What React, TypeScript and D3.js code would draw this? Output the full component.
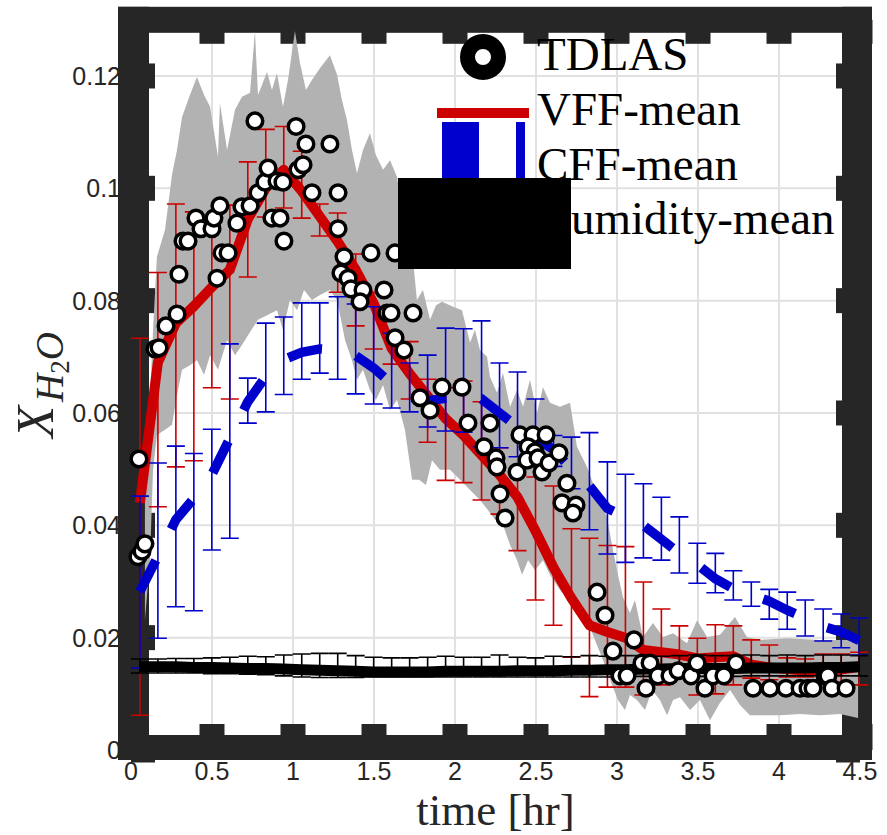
import React from "react";
import * as d3 from "d3";

// ---------- data ----------
const TIME = [0.055, 0.166, 0.277, 0.388, 0.499, 0.61, 0.721, 0.832, 0.943, 1.054, 1.165, 1.276, 1.387, 1.498, 1.609, 1.72, 1.831, 1.942, 2.053, 2.164, 2.275, 2.386, 2.497, 2.608, 2.719, 2.83, 2.941, 3.052, 3.163, 3.274, 3.385, 3.496, 3.607, 3.718, 3.829, 3.94, 4.051, 4.162, 4.273, 4.384, 4.495];

const VFF_MEAN = [0.044, 0.069, 0.076, 0.079, 0.0824, 0.0855, 0.0945, 0.1, 0.1033, 0.0995, 0.095, 0.0905, 0.0855, 0.0795, 0.0715, 0.067, 0.063, 0.059, 0.056, 0.0525, 0.049, 0.045, 0.039, 0.0325, 0.027, 0.0222, 0.021, 0.02, 0.0178, 0.0174, 0.017, 0.0163, 0.0165, 0.0167, 0.0152, 0.0147, 0.0144, 0.0141, 0.014, 0.0143, 0.0148];
const VFF_LO = [0.0062, 0.0433, 0.0504, 0.0515, 0.0645, 0.0625, 0.0842, 0.0949, 0.0965, 0.0947, 0.0915, 0.0815, 0.0755, 0.0714, 0.0687, 0.0625, 0.0548, 0.048, 0.0476, 0.0445, 0.042, 0.0355, 0.0267, 0.0222, 0.0165, 0.0095, 0.0112, 0.0112, 0.0098, 0.0116, 0.0128, 0.0098, 0.01, 0.0116, 0.0128, 0.0125, 0.013, 0.013, 0.0125, 0.012, 0.0116];
const VFF_HI = [0.0733, 0.085, 0.0972, 0.0958, 0.093, 0.097, 0.1047, 0.1105, 0.111, 0.1066, 0.0972, 0.0956, 0.0883, 0.0815, 0.0742, 0.0727, 0.066, 0.0645, 0.0657, 0.062, 0.0538, 0.049, 0.0486, 0.047, 0.0394, 0.0377, 0.0364, 0.0362, 0.0299, 0.0251, 0.0221, 0.0199, 0.0223, 0.0221, 0.0196, 0.0187, 0.0164, 0.0162, 0.0171, 0.0171, 0.0174];

const CFF_MEAN = [0.0282, 0.0345, 0.041, 0.0448, 0.049, 0.0555, 0.062, 0.0665, 0.0695, 0.0708, 0.0714, 0.0712, 0.0702, 0.068, 0.0652, 0.0628, 0.0622, 0.0626, 0.0628, 0.0625, 0.06, 0.0575, 0.0555, 0.0535, 0.05, 0.047, 0.043, 0.0415, 0.04, 0.0375, 0.035, 0.033, 0.0305, 0.0287, 0.0276, 0.0265, 0.0249, 0.0235, 0.022, 0.021, 0.0195];
const CFF_LO = [0.0146, 0.0199, 0.0255, 0.0248, 0.0356, 0.0377, 0.0582, 0.0602, 0.0633, 0.066, 0.0671, 0.066, 0.0634, 0.0616, 0.0609, 0.0602, 0.0575, 0.0568, 0.0566, 0.054, 0.0538, 0.0522, 0.0504, 0.0505, 0.0465, 0.0392, 0.0349, 0.0334, 0.0342, 0.0338, 0.0315, 0.0297, 0.028, 0.0267, 0.0256, 0.0233, 0.0215, 0.0203, 0.0194, 0.0182, 0.0169];
const CFF_HI = [0.0452, 0.0511, 0.0541, 0.0528, 0.0571, 0.0723, 0.0662, 0.076, 0.0771, 0.0796, 0.0796, 0.0807, 0.0794, 0.0789, 0.0742, 0.0689, 0.0703, 0.0751, 0.075, 0.0764, 0.0689, 0.0673, 0.0625, 0.056, 0.0557, 0.0565, 0.0513, 0.0491, 0.0474, 0.045, 0.0415, 0.0368, 0.035, 0.0319, 0.0299, 0.0286, 0.0281, 0.0267, 0.0251, 0.0242, 0.0235];

const HUM_MEAN = [0.0148, 0.0148, 0.0148, 0.0147, 0.0147, 0.0146, 0.0145, 0.0145, 0.0144, 0.0143, 0.0142, 0.0141, 0.014, 0.0139, 0.0139, 0.0139, 0.0139, 0.014, 0.014, 0.014, 0.014, 0.0141, 0.0141, 0.0141, 0.0142, 0.0142, 0.0143, 0.0143, 0.0144, 0.0144, 0.0145, 0.0145, 0.0145, 0.0145, 0.0146, 0.0146, 0.0146, 0.0146, 0.0147, 0.0147, 0.0148];
const HUM_LO = [0.0137, 0.0137, 0.0137, 0.0137, 0.0136, 0.0136, 0.0135, 0.0134, 0.0132, 0.013, 0.0129, 0.0129, 0.0129, 0.013, 0.013, 0.013, 0.013, 0.013, 0.013, 0.013, 0.013, 0.013, 0.013, 0.013, 0.013, 0.013, 0.013, 0.0131, 0.0131, 0.0131, 0.0131, 0.0131, 0.0131, 0.0131, 0.0132, 0.0132, 0.0132, 0.0132, 0.0132, 0.0132, 0.0132];
const HUM_HI = [0.0162, 0.0162, 0.0163, 0.0163, 0.0164, 0.0165, 0.0167, 0.0166, 0.0169, 0.0171, 0.0172, 0.0172, 0.0168, 0.0165, 0.0164, 0.0164, 0.0165, 0.0167, 0.0165, 0.0165, 0.0169, 0.0165, 0.0164, 0.0167, 0.0166, 0.0168, 0.0167, 0.0168, 0.0168, 0.0167, 0.0168, 0.0169, 0.0168, 0.0168, 0.0169, 0.0168, 0.0169, 0.0168, 0.0169, 0.0169, 0.0168];

const BAND_UP_T = [0.086, 0.117, 0.136, 0.16, 0.21, 0.253, 0.284, 0.315, 0.364, 0.407, 0.451, 0.488, 0.537, 0.549, 0.593, 0.642, 0.685, 0.735, 0.765, 0.784, 0.84, 0.87, 0.901, 0.938, 0.969, 1.012, 1.043, 1.08, 1.117, 1.167, 1.228, 1.272, 1.302, 1.333, 1.364, 1.395, 1.432, 1.475, 1.512, 1.556, 1.599, 1.642, 1.691, 1.735, 1.765, 1.802, 1.846, 1.883, 1.92, 1.981, 2.043, 2.093, 2.123, 2.154, 2.198, 2.216, 2.259, 2.296, 2.34, 2.383, 2.42, 2.463, 2.506, 2.543, 2.586, 2.648, 2.71, 2.753, 2.815, 2.852, 2.895, 2.938, 2.975, 3.006, 3.037, 3.08, 3.111, 3.16, 3.222, 3.284, 3.346, 3.432, 3.494, 3.556, 3.636, 3.728, 3.802, 3.883, 4.049, 4.253, 4.42, 4.488];
const BAND_UP_V = [0.0499, 0.0623, 0.0748, 0.0878, 0.0926, 0.1024, 0.1068, 0.1127, 0.1166, 0.1198, 0.1166, 0.1145, 0.1056, 0.1152, 0.1068, 0.114, 0.1163, 0.117, 0.128, 0.1166, 0.1207, 0.1175, 0.1205, 0.1145, 0.1193, 0.128, 0.1223, 0.1175, 0.1193, 0.1214, 0.1237, 0.1202, 0.1157, 0.1122, 0.1068, 0.1027, 0.1068, 0.1098, 0.1059, 0.1033, 0.105, 0.102, 0.0935, 0.089, 0.0801, 0.0819, 0.0766, 0.0792, 0.0798, 0.079, 0.0783, 0.0725, 0.0748, 0.0712, 0.07, 0.0664, 0.0636, 0.0671, 0.0611, 0.0641, 0.0611, 0.0659, 0.06, 0.0646, 0.0618, 0.0611, 0.0618, 0.054, 0.0504, 0.0475, 0.0445, 0.0415, 0.0356, 0.0312, 0.0272, 0.0244, 0.0267, 0.0201, 0.0226, 0.0201, 0.0208, 0.019, 0.0231, 0.0201, 0.0205, 0.0237, 0.0201, 0.0196, 0.0199, 0.0196, 0.0196, 0.0194];
const BAND_LO_T = [0.086, 0.117, 0.136, 0.16, 0.21, 0.253, 0.284, 0.315, 0.364, 0.407, 0.451, 0.488, 0.537, 0.593, 0.642, 0.685, 0.735, 0.784, 0.84, 0.901, 0.938, 0.981, 1.025, 1.068, 1.117, 1.167, 1.228, 1.272, 1.321, 1.364, 1.395, 1.432, 1.475, 1.512, 1.556, 1.599, 1.642, 1.691, 1.735, 1.778, 1.821, 1.858, 1.907, 1.969, 2.031, 2.093, 2.154, 2.204, 2.247, 2.296, 2.34, 2.383, 2.414, 2.451, 2.494, 2.543, 2.586, 2.648, 2.71, 2.772, 2.815, 2.864, 2.914, 2.957, 3.006, 3.049, 3.08, 3.123, 3.173, 3.216, 3.265, 3.309, 3.346, 3.389, 3.451, 3.512, 3.574, 3.636, 3.698, 3.759, 3.821, 3.883, 4.006, 4.13, 4.253, 4.377, 4.488];
const BAND_LO_V = [0.0231, 0.0338, 0.0499, 0.0561, 0.057, 0.0579, 0.0632, 0.0677, 0.0685, 0.0694, 0.0668, 0.0703, 0.0677, 0.073, 0.0703, 0.0721, 0.0744, 0.0766, 0.0774, 0.0783, 0.0748, 0.0801, 0.0783, 0.0819, 0.0801, 0.081, 0.0819, 0.0801, 0.073, 0.0694, 0.0659, 0.0677, 0.0641, 0.0623, 0.065, 0.0605, 0.0623, 0.057, 0.0481, 0.0481, 0.0472, 0.0516, 0.0499, 0.0499, 0.0481, 0.0463, 0.0445, 0.0427, 0.041, 0.0401, 0.0365, 0.0338, 0.0312, 0.0338, 0.032, 0.0338, 0.0312, 0.0285, 0.0267, 0.0249, 0.0231, 0.0196, 0.016, 0.0125, 0.0089, 0.0071, 0.0098, 0.0089, 0.0071, 0.0107, 0.0089, 0.0062, 0.0089, 0.0094, 0.0071, 0.0089, 0.0053, 0.0084, 0.0107, 0.008, 0.0062, 0.0062, 0.0062, 0.0064, 0.0062, 0.0064, 0.0057];

const TDLAS_T = [0.049, 0.043, 0.068, 0.086, 0.148, 0.173, 0.216, 0.284, 0.296, 0.321, 0.352, 0.401, 0.432, 0.5, 0.512, 0.549, 0.562, 0.599, 0.531, 0.654, 0.685, 0.735, 0.765, 0.784, 0.827, 0.846, 0.87, 0.92, 0.901, 0.938, 0.944, 1.019, 1.031, 1.062, 1.08, 1.117, 1.228, 1.278, 1.278, 1.315, 1.296, 1.34, 1.358, 1.432, 1.414, 1.481, 1.562, 1.58, 1.605, 1.63, 1.63, 1.685, 1.741, 1.784, 1.846, 1.92, 2.043, 2.08, 2.179, 2.216, 2.253, 2.259, 2.278, 2.309, 2.383, 2.401, 2.481, 2.562, 2.451, 2.494, 2.444, 2.512, 2.537, 2.58, 2.642, 2.691, 2.66, 2.747, 2.728, 2.877, 2.926, 2.975, 3.105, 3.154, 3.204, 3.019, 3.062, 3.179, 3.253, 3.327, 3.377, 3.457, 3.494, 3.543, 3.593, 3.66, 3.735, 3.84, 3.944, 4.043, 4.13, 4.179, 4.21, 4.284, 4.302, 4.327, 4.414];
const TDLAS_V = [0.0518, 0.0344, 0.0354, 0.0367, 0.0714, 0.0716, 0.0755, 0.0776, 0.0847, 0.0906, 0.0906, 0.0947, 0.0928, 0.0928, 0.0947, 0.0969, 0.0885, 0.0885, 0.084, 0.0938, 0.0967, 0.0969, 0.112, 0.0992, 0.1011, 0.1036, 0.0947, 0.0947, 0.1013, 0.1011, 0.0906, 0.111, 0.1033, 0.1042, 0.1079, 0.0992, 0.1079, 0.0992, 0.0928, 0.0878, 0.0849, 0.084, 0.0821, 0.0819, 0.0798, 0.0885, 0.0819, 0.0778, 0.0778, 0.0885, 0.0734, 0.0712, 0.0778, 0.0627, 0.0605, 0.0646, 0.0646, 0.0582, 0.054, 0.0582, 0.052, 0.0504, 0.0456, 0.0413, 0.0495, 0.0561, 0.0561, 0.0561, 0.054, 0.0531, 0.0516, 0.052, 0.0495, 0.0511, 0.0529, 0.0475, 0.044, 0.0436, 0.0422, 0.0281, 0.024, 0.0176, 0.0196, 0.0155, 0.0155, 0.0132, 0.0132, 0.011, 0.0132, 0.0132, 0.0141, 0.0132, 0.0155, 0.011, 0.0132, 0.0132, 0.0155, 0.011, 0.011, 0.011, 0.011, 0.011, 0.011, 0.0132, 0.0132, 0.011, 0.011];

const X_TICKS = [0, 0.5, 1, 1.5, 2, 2.5, 3, 3.5, 4, 4.5];
const X_TICK_LABELS = ["0", "0.5", "1", "1.5", "2", "2.5", "3", "3.5", "4", "4.5"];
const Y_TICKS = [0, 0.02, 0.04, 0.06, 0.08, 0.1, 0.12];
const Y_TICK_LABELS = ["0", "0.02", "0.04", "0.06", "0.08", "0.1", "0.12"];

const LEGEND_LABELS = ["TDLAS", "VFF-mean", "CFF-mean", "Humidity-mean"];

// ---------- styles ----------
const FRAME = "#262626";
const GRID = "#e1e1e1";
const RED = "#cc0000";
const BLUE = "#0000cc";
const GRAY = "#b2b2b2";
const SANS = "'Liberation Sans', Arial, Helvetica, sans-serif";
const SERIF = "'Liberation Serif', 'Times New Roman', serif";

export default function App() {
  const x = d3.scaleLinear().domain([0, 4.5]).range([131, 860]);
  const y = d3.scaleLinear().domain([0, 0.13]).range([750, 19.8]);
  const x0 = x(0), x1 = x(4.5), y0 = y(0), y1 = y(0.13);

  const meanLine = (vals: number[]) =>
    d3.line<number>().x((_, i) => x(TIME[i])).y((d) => y(d))(vals) || "";

  const bandPts: [number, number][] = [
    ...BAND_UP_T.map((t, i) => [x(t), y(BAND_UP_V[i])] as [number, number]),
    ...BAND_LO_T.map((t, i) => [x(t), y(BAND_LO_V[i])] as [number, number]).reverse(),
  ];
  const bandPath = d3.line().curve(d3.curveLinearClosed)(bandPts) || "";

  const errBars = (lo: number[], hi: number[], color: string, key: string) => {
    const cap = 9;
    return (
      <g key={key} stroke={color} strokeWidth={1.6} fill="none">
        {TIME.map((t, i) => {
          const cx = x(t);
          const ylo = y(lo[i]);
          const yhi = y(hi[i]);
          return (
            <path
              key={i}
              d={`M${cx},${ylo}L${cx},${yhi}M${cx - cap},${ylo}L${cx + cap},${ylo}M${cx - cap},${yhi}L${cx + cap},${yhi}`}
            />
          );
        })}
      </g>
    );
  };

  return (
    <svg
      width={887}
      height={835}
      style={{ position: "absolute", left: 0, top: 0, background: "#fff" }}
    >
      {/* tick labels (partly hidden under frame) */}
      <g fontFamily={SANS} fontSize={25} fill={FRAME}>
        {Y_TICKS.map((v, i) => (
          <text key={"yl" + i} x={121} y={y(v)} dy="0.36em" textAnchor="end">
            {Y_TICK_LABELS[i]}
          </text>
        ))}
        {X_TICKS.map((t, i) => (
          <text key={"xl" + i} x={x(t)} y={780} textAnchor="middle">
            {X_TICK_LABELS[i]}
          </text>
        ))}
      </g>

      {/* grid */}
      <g stroke={GRID} strokeWidth={2}>
        {X_TICKS.map((t, i) => (
          <line key={"gx" + i} x1={x(t)} x2={x(t)} y1={y1} y2={y0} />
        ))}
        {Y_TICKS.map((v, i) => (
          <line key={"gy" + i} x1={x0} x2={x1} y1={y(v)} y2={y(v)} />
        ))}
      </g>

      {/* frame */}
      <g fill={FRAME}>
        <rect x={x0 - 13} y={y1 - 13} width={31} height={y0 + 10 - (y1 - 13)} />
        <rect x={x1 - 18} y={y1 - 13} width={30} height={y0 + 10 - (y1 - 13)} />
        <rect x={x0 - 13} y={y1 - 13} width={x1 + 12 - (x0 - 13)} height={26} />
        <rect x={x0 - 13} y={y0 - 15} width={x1 + 12 - (x0 - 13)} height={25} />
        {Y_TICKS.map((v, i) => (
          <g key={"ty" + i}>
            <rect x={x0} y={y(v) - 12.5} width={24} height={25} />
            <rect x={x1 - 24} y={y(v) - 12.5} width={24} height={25} />
          </g>
        ))}
        {X_TICKS.map((t, i) => (
          <g key={"tx" + i}>
            <rect x={x(t) - 12.5} y={y1} width={25} height={24} />
            <rect x={x(t) - 12.5} y={y0 - 26} width={25} height={26} />
          </g>
        ))}
      </g>

      {/* gray band */}
      <path d={bandPath} fill={GRAY} stroke="none" />

      {/* VFF */}
      {errBars(VFF_LO, VFF_HI, RED, "vffe")}
      <path d={meanLine(VFF_MEAN)} fill="none" stroke={RED} strokeWidth={10} strokeLinejoin="round" />

      {/* CFF */}
      {errBars(CFF_LO, CFF_HI, BLUE, "cffe")}
      <path d={meanLine(CFF_MEAN)} fill="none" stroke={BLUE} strokeWidth={9.5} strokeDasharray="35 35" />

      {/* Humidity */}
      {errBars(HUM_LO, HUM_HI, "#000", "hume")}
      <path d={meanLine(HUM_MEAN)} fill="none" stroke="#000" strokeWidth={11} strokeLinejoin="round" />

      {/* TDLAS */}
      <g fill="#fff" stroke="#000" strokeWidth={3.5}>
        {TDLAS_T.map((t, i) => (
          <circle key={i} cx={x(t)} cy={y(TDLAS_V[i])} r={7.8} />
        ))}
      </g>

      {/* legend */}
      <g fontFamily={SERIF} fontSize={47} fill="#000">
        <circle cx={483} cy={57} r={15.5} fill="#fff" stroke="#000" strokeWidth={15} />
        <text x={537} y={70}>{LEGEND_LABELS[0]}</text>
        <rect x={437} y={108} width={92} height={10} fill={RED} />
        <text x={537} y={125}>{LEGEND_LABELS[1]}</text>
        <rect x={442} y={122} width={37} height={60} fill={BLUE} />
        <rect x={516} y={122} width={9} height={60} fill={BLUE} />
        <text x={537} y={180}>{LEGEND_LABELS[2]}</text>
        <text x={537} y={234}>{LEGEND_LABELS[3]}</text>
        <rect x={398} y={178} width={173} height={91} fill="#000" />
      </g>

      {/* axis labels */}
      <text
        x={(x0 + x1) / 2}
        y={825}
        textAnchor="middle"
        fontFamily={SERIF}
        fontSize={45}
        fill={FRAME}
      >
        time [hr]
      </text>
      <text
        transform={`translate(53,${y(0.065)}) rotate(-90)`}
        textAnchor="middle"
        fontFamily={SERIF}
        fontStyle="italic"
        fill={FRAME}
      >
        <tspan fontSize={52}>X</tspan>
        <tspan fontSize={39} dy={10} dx={4}>H</tspan>
        <tspan fontSize={27} dy={6} fontStyle="normal">2</tspan>
        <tspan fontSize={39} dy={-6}>O</tspan>
      </text>
    </svg>
  );
}
